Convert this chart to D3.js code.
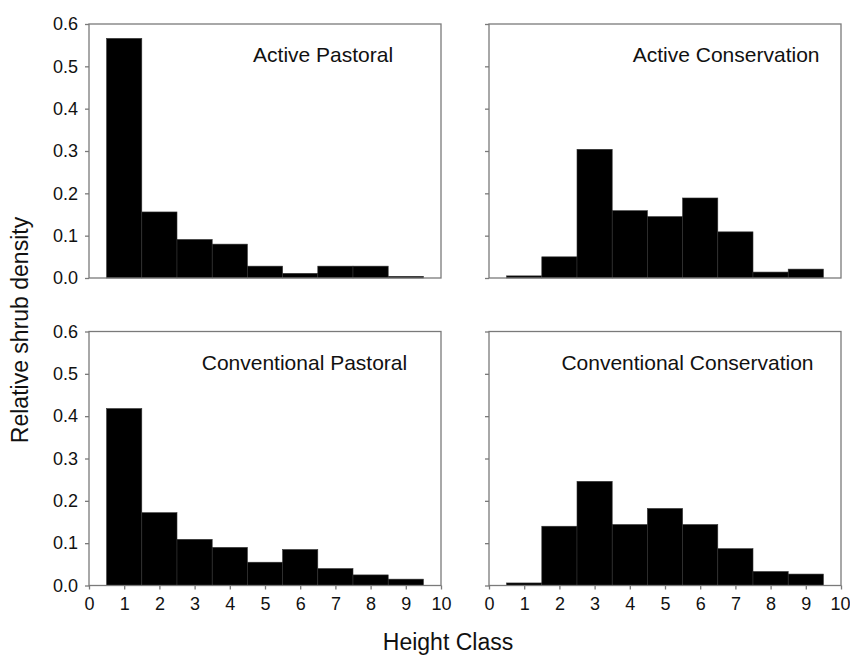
<!DOCTYPE html>
<html>
<head>
<meta charset="utf-8">
<script src="https://cdn.jsdelivr.net/npm/d3@7"></script>
<style>
  body { margin: 0; background: #fff; }
  svg text { font-family: Arial, "Liberation Sans", sans-serif; fill: #111; }
</style>
</head>
<body>
<div id="chart"></div>
<script>

// Data
var heightClasses = [1, 2, 3, 4, 5, 6, 7, 8, 9];
var panelTitles = ["Active Pastoral", "Active Conservation", "Conventional Pastoral", "Conventional Conservation"];
var activePastoral = [0.566, 0.156, 0.091, 0.080, 0.028, 0.011, 0.028, 0.028, 0.004];
var activeConservation = [0.005, 0.050, 0.304, 0.159, 0.145, 0.189, 0.109, 0.014, 0.021];
var conventionalPastoral = [0.418, 0.172, 0.109, 0.090, 0.055, 0.085, 0.040, 0.025, 0.015];
var conventionalConservation = [0.006, 0.140, 0.246, 0.144, 0.182, 0.144, 0.087, 0.033, 0.027];
var xTicks = [0, 1, 2, 3, 4, 5, 6, 7, 8, 9, 10];
var yTicks = [0.0, 0.1, 0.2, 0.3, 0.4, 0.5, 0.6];

function renderChart() {

  // Exposed variables
  var attrs = {
    svgWidth: 850,
    svgHeight: 655,
    panelLeft: 89,
    panelTop: 24,
    panelWidth: 352,
    panelHeight: 254,
    colGap: 48,
    rowGap: 53.5,
    frameColor: '#7a7a7a',
    container: '#chart'
  };

  var series = [activePastoral, activeConservation, conventionalPastoral, conventionalConservation];

  // title right edge, in height-class units
  var titleEnds = [8.64, 9.39, 9.04, 9.22];

  var svg = d3.select(attrs.container).append('svg')
    .attr('width', attrs.svgWidth)
    .attr('height', attrs.svgHeight);

  //Scales
  var x = d3.scaleLinear().domain([0, 10]).range([0, attrs.panelWidth]);
  var y = d3.scaleLinear().domain([0, 0.6]).range([attrs.panelHeight, 0]);

  series.forEach(function (values, i) {
    var col = i % 2, row = Math.floor(i / 2);
    var ox = attrs.panelLeft + col * (attrs.panelWidth + attrs.colGap);
    var oy = attrs.panelTop + row * (attrs.panelHeight + attrs.rowGap);

    var g = svg.append('g')
      .attr('class', 'panel')
      .attr('transform', 'translate(' + ox + ',' + oy + ')');

    // bars
    g.selectAll('rect.bar')
      .data(values)
      .enter().append('rect')
      .attr('class', 'bar')
      .attr('x', function (d, j) { return x(heightClasses[j] - 0.5); })
      .attr('width', function (d, j) { return x(heightClasses[j] + 0.5) - x(heightClasses[j] - 0.5); })
      .attr('y', function (d) { return y(d); })
      .attr('height', function (d) { return y(0) - y(d); })
      .attr('fill', '#000')
      .attr('stroke', '#333')
      .attr('stroke-width', 0.6);

    // frame
    g.append('rect')
      .attr('x', 0).attr('y', 0)
      .attr('width', attrs.panelWidth)
      .attr('height', attrs.panelHeight)
      .attr('fill', 'none')
      .attr('stroke', attrs.frameColor)
      .attr('stroke-width', 1.3);

    // y axis
    var yAxis = d3.axisLeft(y).tickValues(yTicks).tickSize(4).tickPadding(7)
      .tickFormat(col === 0 ? d3.format('.1f') : function () { return ''; });
    var yg = g.append('g').call(yAxis);
    yg.select('.domain').remove();
    yg.selectAll('line').attr('stroke', attrs.frameColor).attr('stroke-width', 1.3);
    yg.selectAll('text').style('font-size', '18px').style('fill', '#111');

    // x axis (bottom row only)
    if (row === 1) {
      var xAxis = d3.axisBottom(x).tickValues(xTicks).tickSize(4).tickPadding(8)
        .tickFormat(d3.format('d'));
      var xg = g.append('g').attr('transform', 'translate(0,' + attrs.panelHeight + ')').call(xAxis);
      xg.select('.domain').remove();
      xg.selectAll('line').attr('stroke', attrs.frameColor).attr('stroke-width', 1.3);
      xg.selectAll('text').style('font-size', '18px').style('fill', '#111');
      // keep the last label inside the page on the right panel
      if (col === 1) {
        xg.selectAll('.tick').filter(function (d) { return d === 10; })
          .select('text').attr('text-anchor', 'end').attr('x', 9);
      }
    }

    // panel title
    g.append('text')
      .attr('x', x(titleEnds[i]))
      .attr('y', y(0.51))
      .attr('text-anchor', 'end')
      .style('font-size', '21px')
      .text(panelTitles[i]);
  });

  // axis titles
  svg.append('text')
    .attr('transform', 'translate(28,' + 330 + ') rotate(-90)')
    .attr('text-anchor', 'middle')
    .style('font-size', '23px')
    .text('Relative shrub density');

  svg.append('text')
    .attr('x', 448)
    .attr('y', 650)
    .attr('text-anchor', 'middle')
    .style('font-size', '23px')
    .text('Height Class');
}

renderChart();
</script>
</body>
</html>
